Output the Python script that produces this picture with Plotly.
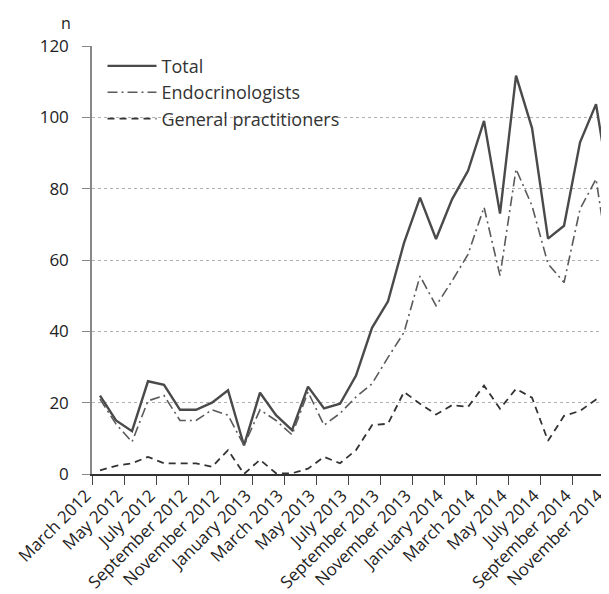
import plotly.graph_objects as go

months = [
    "March 2012", "April 2012", "May 2012", "June 2012", "July 2012", "August 2012",
    "September 2012", "October 2012", "November 2012", "December 2012",
    "January 2013", "February 2013", "March 2013", "April 2013", "May 2013", "June 2013",
    "July 2013", "August 2013", "September 2013", "October 2013", "November 2013", "December 2013",
    "January 2014", "February 2014", "March 2014", "April 2014", "May 2014", "June 2014",
    "July 2014", "August 2014", "September 2014", "October 2014", "November 2014",
]

total = [22, 15, 12, 26, 25, 18, 18, 20, 23.5, 8, 22.8, 16.5, 12.3, 24.5, 18.4, 19.7,
         27.6, 41, 48.4, 64.8, 77.5, 65.9, 77, 85, 99, 73, 111.7, 97, 66, 69.6, 93, 103.7, 76]

endocrinologists = [21, 14, 9, 20.5, 22, 15, 15, 18, 16.5, 8, 18, 15, 11, 23, 13.7, 17,
                    21.6, 25.3, 32.7, 39.7, 55.5, 47.2, 54.1, 61.6, 74.8, 55.6, 85.5, 75.2,
                    58.9, 53.7, 74.3, 82.7, 53.3]

general_practitioners = [1, 2.3, 3, 4.8, 3, 3, 3, 2, 6.7, 0, 4, 0.2, 0.2, 1.5, 4.8, 3,
                         6.7, 13.7, 14.1, 23, 19.7, 16.7, 19.3, 18.8, 24.8, 18.3, 23.9, 21.4,
                         9.3, 16.3, 17.7, 20.9, 22.3]

y_ticks = [0, 20, 40, 60, 80, 100, 120]
x_labels = months[::2]

FONT = "Open Sans, Noto Sans, sans-serif"

fig = go.Figure()
fig.add_trace(go.Scatter(x=months, y=total, mode="lines", name="Total",
                         line=dict(color="#4a4a4a", width=2.4)))
fig.add_trace(go.Scatter(x=months, y=endocrinologists, mode="lines", name="Endocrinologists",
                         line=dict(color="#5a5a5a", width=1.6, dash="10px,4px,2px,4px")))
fig.add_trace(go.Scatter(x=months, y=general_practitioners, mode="lines",
                         name="General practitioners",
                         line=dict(color="#333333", width=1.8, dash="7px,5px")))

fig.update_layout(
    width=609, height=594,
    margin=dict(l=84, r=0, t=38, b=128, autoexpand=False),
    paper_bgcolor="white", plot_bgcolor="white",
    font=dict(family=FONT, color="#2a2a2a"),
    showlegend=True,
    legend=dict(x=0.02, y=0.996, xanchor="left", yanchor="top",
                bgcolor="rgba(0,0,0,0)", font=dict(size=18, color="#333333"),
                itemwidth=49, tracegroupgap=0),
    xaxis=dict(
        type="category", categoryorder="array", categoryarray=months,
        range=[-0.5, 32.31], automargin=False,
        tickmode="array", tickvals=x_labels, ticktext=x_labels,
        tickson="boundaries", ticks="outside", ticklen=9, tickcolor="#444",
        tickangle=-45, tickfont=dict(size=17, color="#222"),
        ticklabelshift=-14, ticklabelstandoff=3,
        showgrid=False, showline=True, linecolor="#333", linewidth=2,
        zeroline=False,
    ),
    yaxis=dict(
        range=[0, 120], tickmode="array", tickvals=y_ticks, automargin=False,
        ticks="outside", ticklen=8, tickcolor="#888", ticklabelstandoff=10,
        tickfont=dict(size=17, color="#222"),
        showgrid=True, gridcolor="#b0b0b0", griddash="dot", gridwidth=1,
        showline=True, linecolor="#888", linewidth=1.5, zeroline=False,
    ),
)

fig.add_annotation(text="n", xref="paper", yref="paper", x=-0.038, y=1.0,
                   xanchor="center", yanchor="bottom", showarrow=False,
                   font=dict(size=16, color="#222"), yshift=10, xshift=-6)

fig.write_html("out.html")
